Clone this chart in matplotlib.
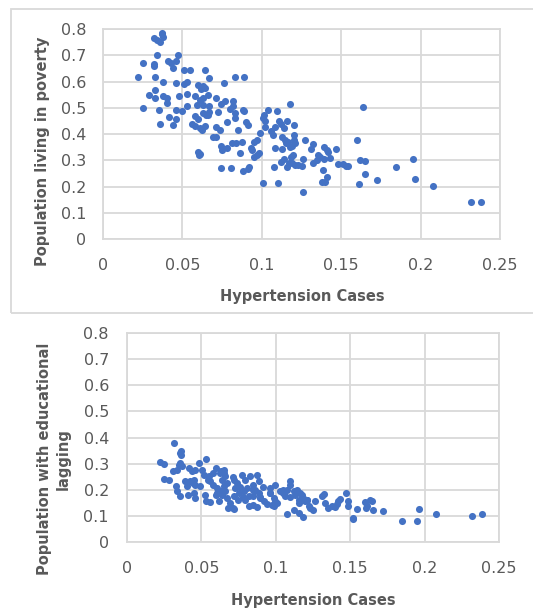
from matplotlib import pyplot as plt
from matplotlib.patches import Rectangle

# values
poverty_x = [
    0.037, 0.038, 0.032, 0.034, 0.036, 0.037, 0.034, 0.025, 0.032, 0.032,
    0.041, 0.043, 0.044, 0.046, 0.047, 0.022, 0.033, 0.038, 0.046, 0.051,
    0.055, 0.064, 0.067, 0.083, 0.089, 0.053, 0.051, 0.060, 0.063, 0.064,
    0.062, 0.076, 0.029, 0.033, 0.033, 0.038, 0.040, 0.040, 0.048, 0.053,
    0.058, 0.061, 0.063, 0.066, 0.071, 0.025, 0.0355, 0.046, 0.050, 0.053,
    0.059, 0.063, 0.067, 0.074, 0.077, 0.082, 0.080, 0.083, 0.082, 0.088,
    0.089, 0.0725, 0.063, 0.065, 0.067, 0.0416, 0.046, 0.058, 0.060, 0.066,
    0.036, 0.044, 0.056, 0.058, 0.061, 0.0625, 0.064, 0.071, 0.0735, 0.078,
    0.0834, 0.085, 0.090, 0.091, 0.069, 0.071, 0.074, 0.075, 0.078, 0.081,
    0.084, 0.0876, 0.086, 0.060, 0.0605, 0.061, 0.074, 0.0807, 0.088, 0.091,
    0.092, 0.093, 0.094, 0.095, 0.097, 0.095, 0.097, 0.098, 0.099, 0.101,
    0.1015, 0.102, 0.102, 0.104, 0.106, 0.107, 0.108, 0.1096, 0.111, 0.112,
    0.116, 0.114, 0.1178, 0.120, 0.120, 0.1125, 0.1145, 0.1165, 0.1155, 0.1175,
    0.120, 0.121, 0.119, 0.108, 0.113, 0.1275, 0.132, 0.131, 0.1076, 0.1124,
    0.114, 0.117, 0.116, 0.1187, 0.1197, 0.1193, 0.1208, 0.1229, 0.126, 0.125,
    0.132, 0.1345, 0.1366, 0.1355, 0.139, 0.141, 0.142, 0.139, 0.143, 0.147,
    0.148, 0.151, 0.153, 0.154, 0.1387, 0.138, 0.140, 0.141, 0.101, 0.110,
    0.126, 0.1597, 0.162, 0.165, 0.1637, 0.165, 0.161, 0.1727, 0.1845, 0.195,
    0.1964, 0.2076, 0.2317, 0.238,
]
poverty_y = [
    0.78, 0.77, 0.765, 0.76, 0.75, 0.785, 0.70, 0.67, 0.665, 0.66,
    0.68, 0.67, 0.65, 0.68, 0.70, 0.617, 0.617, 0.60, 0.595, 0.642,
    0.642, 0.642, 0.614, 0.617, 0.619, 0.60, 0.59, 0.587, 0.584, 0.575,
    0.57, 0.594, 0.55, 0.568, 0.537, 0.546, 0.537, 0.52, 0.546, 0.553,
    0.543, 0.53, 0.537, 0.55, 0.537, 0.50, 0.49, 0.492, 0.487, 0.505,
    0.511, 0.51, 0.507, 0.515, 0.524, 0.524, 0.495, 0.48, 0.505, 0.49,
    0.486, 0.485, 0.48, 0.473, 0.485, 0.464, 0.459, 0.469, 0.457, 0.472,
    0.437, 0.434, 0.439, 0.431, 0.422, 0.416, 0.429, 0.428, 0.416, 0.445,
    0.46, 0.416, 0.444, 0.435, 0.388, 0.388, 0.356, 0.34, 0.346, 0.365,
    0.365, 0.368, 0.329, 0.333, 0.32, 0.322, 0.27, 0.272, 0.26, 0.266,
    0.276, 0.346, 0.34, 0.371, 0.378, 0.314, 0.32, 0.327, 0.403, 0.46,
    0.473, 0.448, 0.428, 0.49, 0.41, 0.397, 0.428, 0.486, 0.451, 0.439,
    0.451, 0.422, 0.514, 0.434, 0.397, 0.388, 0.378, 0.371, 0.365, 0.352,
    0.378, 0.365, 0.355, 0.348, 0.343, 0.378, 0.362, 0.343, 0.276, 0.295,
    0.304, 0.289, 0.276, 0.314, 0.32, 0.289, 0.282, 0.282, 0.304, 0.279,
    0.289, 0.301, 0.314, 0.32, 0.35, 0.34, 0.33, 0.304, 0.308, 0.342,
    0.286, 0.286, 0.28, 0.279, 0.263, 0.219, 0.219, 0.235, 0.212, 0.212,
    0.18, 0.378, 0.301, 0.299, 0.501, 0.247, 0.209, 0.225, 0.276, 0.304,
    0.23, 0.203, 0.142, 0.14,
]

edu_x = [
    0.0316, 0.036, 0.0362, 0.0358, 0.022, 0.0246, 0.031, 0.0336, 0.0347, 0.0358,
    0.037, 0.0414, 0.0436, 0.0459, 0.0481, 0.0503, 0.0533, 0.025, 0.028, 0.033,
    0.0336, 0.0358, 0.039, 0.040, 0.0425, 0.0448, 0.046, 0.049, 0.041, 0.045,
    0.046, 0.053, 0.0526, 0.0515, 0.055, 0.058, 0.060, 0.063, 0.0555, 0.058,
    0.0604, 0.0627, 0.060, 0.0615, 0.065, 0.0655, 0.066, 0.0638, 0.0672, 0.065,
    0.066, 0.0638, 0.0672, 0.068, 0.0716, 0.0716, 0.0739, 0.0727, 0.075, 0.0716,
    0.0743, 0.077, 0.0795, 0.0806, 0.0784, 0.0817, 0.0795, 0.0817, 0.085, 0.0828,
    0.0873, 0.0884, 0.085, 0.0862, 0.0884, 0.085, 0.0895, 0.0918, 0.094, 0.0958,
    0.0962, 0.0985, 0.0974, 0.0996, 0.0985, 0.0996, 0.103, 0.105, 0.1063, 0.1074,
    0.1097, 0.1119, 0.113, 0.1141, 0.1153, 0.1159, 0.1175, 0.1186, 0.1197, 0.1209,
    0.122, 0.1074, 0.112, 0.1153, 0.1186, 0.123, 0.125, 0.1265, 0.131, 0.1325,
    0.1332, 0.1354, 0.1376, 0.1399, 0.141, 0.1421, 0.1432, 0.147, 0.1488, 0.1488,
    0.1517, 0.152, 0.1544, 0.160, 0.1611, 0.1634, 0.1645, 0.1652, 0.1607, 0.1723,
    0.1846, 0.1947, 0.1965, 0.2075, 0.2317, 0.2384,
    0.0446, 0.0547, 0.0647, 0.0714, 0.0782, 0.0849, 0.0894, 0.0961, 0.105, 0.1095,
    0.1163, 0.1208, 0.0692, 0.0872, 0.1006, 0.0714, 0.0558, 0.076, 0.0916, 0.0603,
    0.0625, 0.1095,
]
edu_y = [
    0.379, 0.347, 0.334, 0.34, 0.305, 0.30, 0.27, 0.274, 0.296, 0.302,
    0.29, 0.283, 0.27, 0.277, 0.302, 0.277, 0.318, 0.242, 0.236, 0.213,
    0.194, 0.175, 0.232, 0.213, 0.232, 0.239, 0.219, 0.216, 0.181, 0.188,
    0.168, 0.156, 0.181, 0.258, 0.251, 0.264, 0.283, 0.27, 0.232, 0.219,
    0.207, 0.194, 0.181, 0.156, 0.277, 0.264, 0.251, 0.239, 0.226, 0.213,
    0.194, 0.181, 0.168, 0.13, 0.126, 0.239, 0.226, 0.207, 0.188, 0.175,
    0.162, 0.258, 0.239, 0.207, 0.194, 0.175, 0.162, 0.137, 0.143, 0.251,
    0.255, 0.232, 0.219, 0.20, 0.188, 0.175, 0.168, 0.156, 0.147, 0.207,
    0.188, 0.168, 0.143, 0.156, 0.137, 0.219, 0.194, 0.188, 0.175, 0.20,
    0.232, 0.194, 0.181, 0.20, 0.162, 0.149, 0.181, 0.168, 0.156, 0.162,
    0.137, 0.108, 0.121, 0.111, 0.096, 0.13, 0.121, 0.156, 0.175, 0.185,
    0.149, 0.13, 0.137, 0.134, 0.147, 0.156, 0.165, 0.188, 0.156, 0.137,
    0.089, 0.092, 0.126, 0.152, 0.137, 0.159, 0.156, 0.121, 0.13, 0.117,
    0.082, 0.079, 0.126, 0.106, 0.101, 0.106,
    0.225, 0.237, 0.199, 0.25, 0.173, 0.199, 0.173, 0.186, 0.199, 0.173,
    0.186, 0.161, 0.148, 0.135, 0.148, 0.129, 0.154, 0.212, 0.212, 0.186,
    0.263, 0.218,
]

x_ticks = [0, 0.05, 0.1, 0.15, 0.2, 0.25]
y_ticks = [0, 0.1, 0.2, 0.3, 0.4, 0.5, 0.6, 0.7, 0.8]
x_tick_labels = ["0", "0.05", "0.1", "0.15", "0.2", "0.25"]
y_tick_labels = ["0", "0.1", "0.2", "0.3", "0.4", "0.5", "0.6", "0.7", "0.8"]

DOT = "#4472C4"
GRID = "#d9d9d9"
TEXT = "#595959"


def style_axes(ax, ypad):
    """Excel like look: grey grid on both axes, no ticks"""
    ax.set_xlim(0, 0.25)
    ax.set_ylim(0, 0.8)
    ax.set_xticks(x_ticks, x_tick_labels)
    ax.set_yticks(y_ticks, y_tick_labels)
    ax.grid(True, color=GRID, linewidth=1.3)
    ax.set_axisbelow(True)
    for s in ax.spines.values():
        s.set_color(GRID)
        s.set_linewidth(1.3)
    ax.tick_params(axis="x", length=0, pad=14, labelsize=11.5, labelcolor=TEXT)
    ax.tick_params(axis="y", length=0, pad=ypad, labelsize=11.5, labelcolor=TEXT)


def main():
    fig = plt.figure(figsize=(5.33, 6.11), dpi=100)

    # frame around the first chart
    fig.patches.append(Rectangle((11 / 533, 1 - 313 / 611), 1.2, 304 / 611,
                                 transform=fig.transFigure, fill=False,
                                 edgecolor=GRID, linewidth=1.3))

    ax1 = fig.add_axes([103 / 533, 1 - 239 / 611, 397 / 533, 210 / 611])
    ax1.scatter(poverty_x, poverty_y, s=26, color=DOT, linewidths=0, zorder=3)
    style_axes(ax1, 12)
    fig.text(302 / 533, 1 - 296 / 611, "Hypertension Cases", ha="center",
             va="center", fontsize=10.5, fontweight="bold", color=TEXT)
    fig.text(43 / 533, 1 - 151 / 611, "Population living in poverty",
             ha="center", va="center", rotation=90, fontsize=10.5,
             fontweight="bold", color=TEXT)

    ax2 = fig.add_axes([127 / 533, 1 - 542 / 611, 372 / 533, 209 / 611])
    ax2.scatter(edu_x, edu_y, s=26, color=DOT, linewidths=0, zorder=3)
    style_axes(ax2, 13)
    fig.text(313 / 533, 1 - 601 / 611, "Hypertension Cases", ha="center",
             va="center", fontsize=10.5, fontweight="bold", color=TEXT)
    fig.text(54 / 533, 1 - 459 / 611, "Population with educational\nlagging",
             ha="center", va="center", rotation=90, fontsize=10.5,
             fontweight="bold", color=TEXT, multialignment="center",
             linespacing=1.35)

    fig.savefig("out.png", dpi=100)
    return 0


if __name__ == "__main__":
    main()
